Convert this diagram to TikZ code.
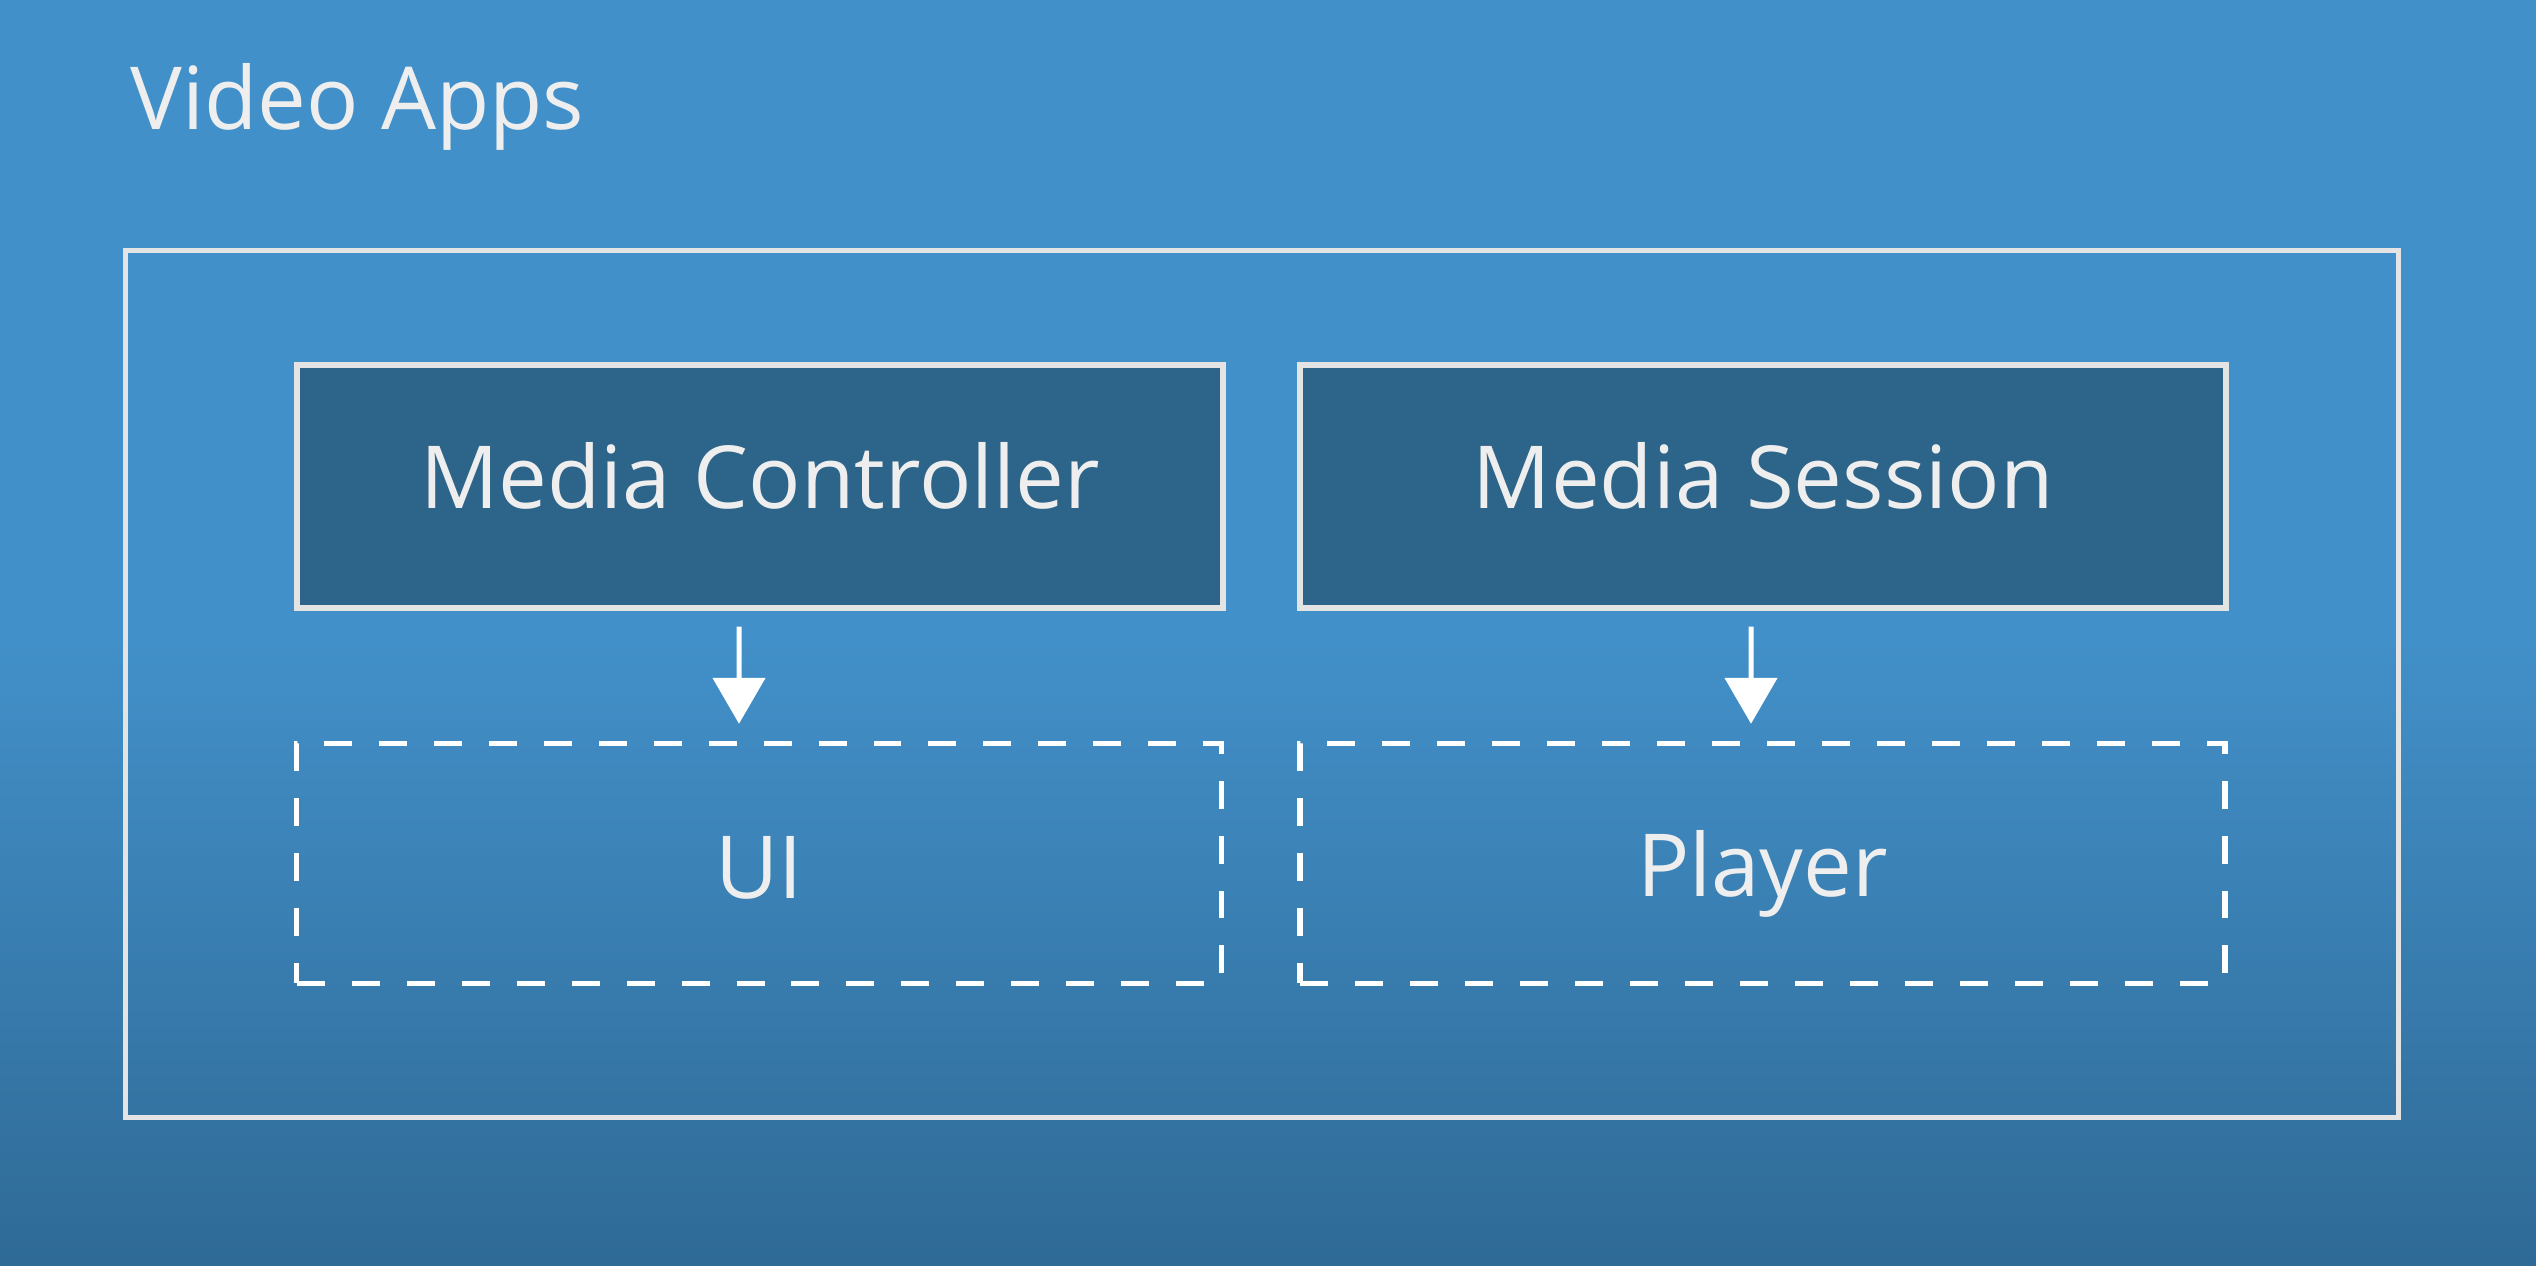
\documentclass[tikz,border=0pt]{standalone}
\usepackage{fontspec}
\setmainfont{Open Sans}
\usetikzlibrary{arrows.meta}
\definecolor{bgtop}{HTML}{4290C9}
\definecolor{bgbot}{HTML}{2F6A96}
\definecolor{boxfill}{HTML}{2D6489}
\definecolor{txt}{HTML}{EEEEEE}
\definecolor{edge}{HTML}{E4E4E4}
\tikzset{
  bigtext/.style={text=txt,font=\fontsize{49.5}{59}\selectfont},
  solidbox/.style={draw=edge,line width=0.11cm,fill=boxfill,inner sep=0pt,
    minimum width=18.52cm,minimum height=4.86cm,bigtext,
    text height=35.3pt,text depth=0pt},
  dashbox/.style={draw=white,line width=0.11cm,dash pattern=on 0.56cm off 0.54cm,
    inner sep=0pt,minimum width=18.5cm,minimum height=4.8cm,bigtext,
    text height=35.3pt,text depth=0pt},
  frame/.style={draw=edge,line width=0.11cm,inner sep=0pt,
    minimum width=45.46cm,minimum height=17.34cm},
  flow/.style={draw=white,line width=0.1cm,-{Triangle[width=1.04cm,length=0.92cm]}},
}
\begin{document}
\begin{tikzpicture}[x=0.02cm,y=-0.02cm]
\useasboundingbox (0,0) rectangle (2536,1266);
\fill[bgtop] (0,0) rectangle (2536,640);
\shade[top color=bgtop,bottom color=bgbot] (0,639) rectangle (2536,1266);
\node[frame] (frame) at (1262,684) {};
\node[bigtext,anchor=base west,inner sep=0pt] (title) at (130,130) {Video Apps};
\node[solidbox] (mc) at (760,486.5) {\raisebox{0.19cm}{Media Controller}};
\node[solidbox] (ms) at (1763,486.5) {\raisebox{0.19cm}{Media Session}};
\node[dashbox] (ui) at (759,863.5) {\raisebox{-0.08cm}{UI}};
\node[dashbox] (pl) at (1762.5,863.5) {\raisebox{-0.04cm}{Player}};
\draw[flow,shorten <=0.32cm,shorten >=0.34cm] ([xshift=-0.42cm]mc.south) -- ([xshift=-0.40cm]ui.north);
\draw[flow,shorten <=0.32cm,shorten >=0.34cm] ([xshift=-0.24cm]ms.south) -- ([xshift=-0.23cm]pl.north);
\end{tikzpicture}
\end{document}
